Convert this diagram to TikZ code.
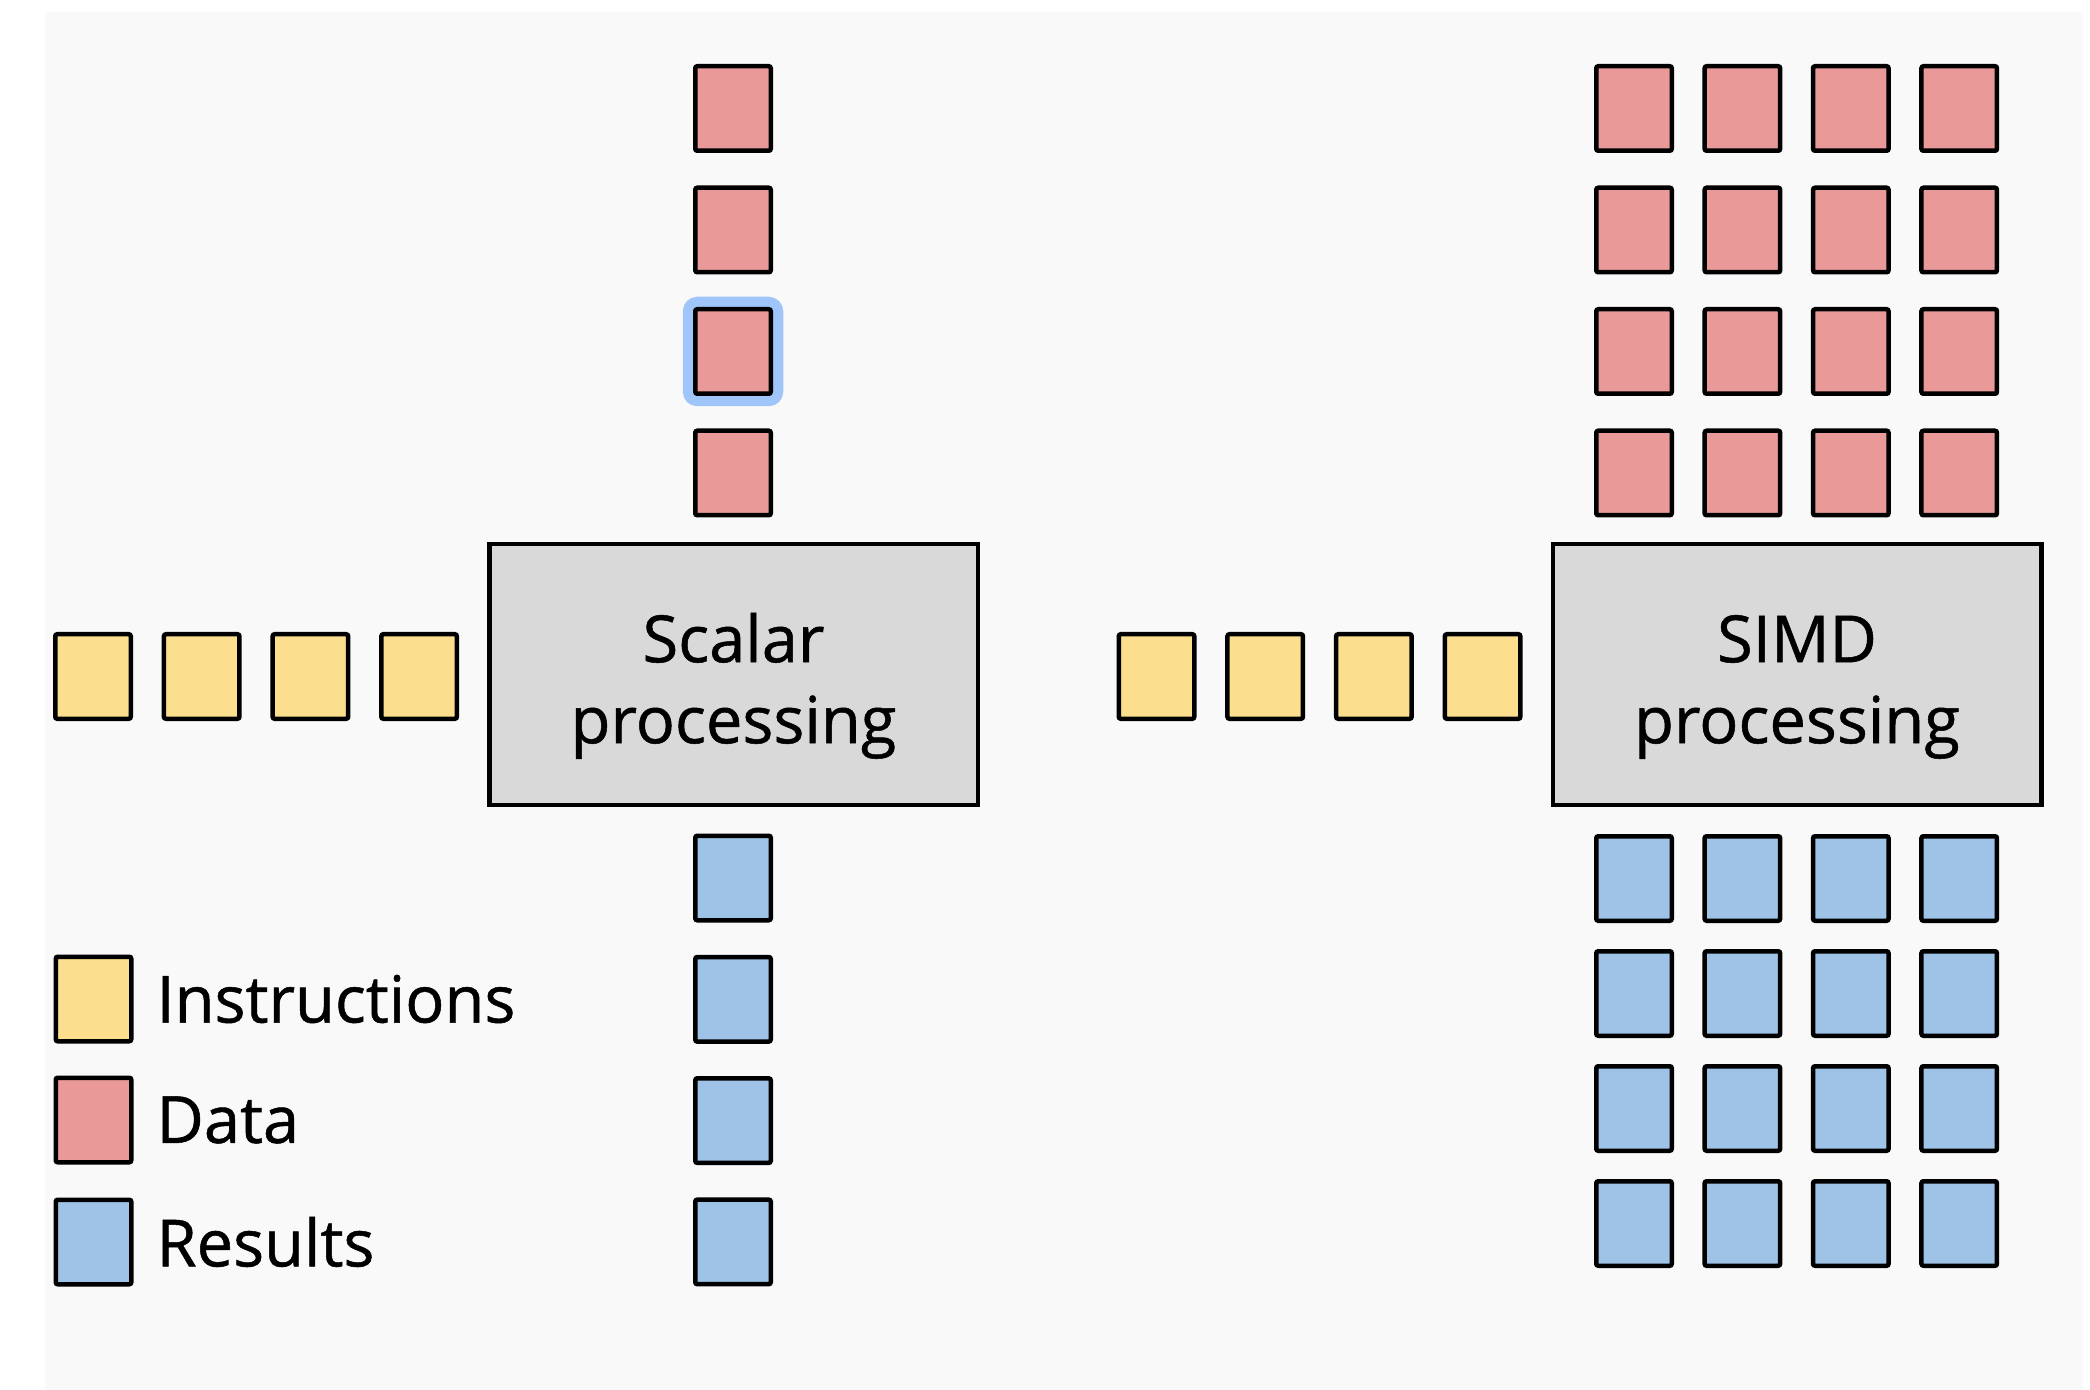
\documentclass[tikz,border=0pt]{standalone}
\usepackage{fontspec}
\setmainfont[FakeBold=0.8]{Open Sans}
\usetikzlibrary{positioning}
\definecolor{bggray}{HTML}{F9F9F9}
\definecolor{instrfill}{HTML}{FCDF8E}
\definecolor{datafill}{HTML}{EA9999}
\definecolor{resultfill}{HTML}{9FC3E7}
\definecolor{unitfill}{HTML}{D9D9D9}
\definecolor{glowblue}{HTML}{A0C5FA}
\tikzstyle{cell} = [
  rectangle,
  minimum width=37.75pt,
  minimum height=42.25pt,
  inner sep=0pt,
  draw=black,
  line width=2.25pt,
  rounded corners=1pt
]
\tikzstyle{instrcell} = [cell, fill=instrfill]
\tikzstyle{datacell} = [cell, fill=datafill]
\tikzstyle{resultcell} = [cell, fill=resultfill]
\tikzstyle{selected} = [preaction={draw=glowblue, line width=12.5pt, line join=round}]
\tikzstyle{unit} = [
  rectangle,
  minimum width=244.25pt,
  minimum height=130.25pt,
  draw=black,
  line width=2.25pt,
  fill=unitfill,
  align=center,
  font=\fontsize{32.5}{40.5}\selectfont
]
\tikzstyle{legendtext} = [inner sep=0pt, outer sep=0pt, font=\fontsize{32.5}{40}\selectfont]
\newcommand{\unitstrut}{\rule{0pt}{36pt}}

\begin{document}
\begin{tikzpicture}[x=0.5pt, y=-0.5pt]
    \useasboundingbox (0,0) rectangle (2090,1390);
    \fill[bggray] (45,12) rectangle (2083,1390);

    \node (scalar) [unit] at (733.5,674.5) {\unitstrut Scalar\\processing};
    \node (simd) [unit] at (1797,674.5) {\unitstrut SIMD\\processing};

    % scalar: one data item per instruction
    \foreach \i/\mark in {1/,2/,3/selected,4/} {
      \node (scalar-instr-\i) [instrcell] at ({93+108.7*(\i-1)},676.5) {};
      \node (scalar-data-\i) [datacell, \mark] at (733,{108.5+121.5*(\i-1)}) {};
      \node (scalar-result-\i) [resultcell] at (733,{878+121.3*(\i-1)}) {};
    }

    % simd: four data items per instruction
    \foreach \i in {1,...,4} {
      \node (simd-instr-\i) [instrcell] at ({1156.5+108.7*(\i-1)},676.5) {};
      \foreach \j in {1,...,4} {
        \node (simd-data-\i-\j) [datacell] at ({1634+108.4*(\j-1)},{108.5+121.5*(\i-1)}) {};
        \node (simd-result-\i-\j) [resultcell] at ({1634+108.4*(\j-1)},{878.5+115*(\i-1)}) {};
      }
    }

    \node (legend-instr) [instrcell] at (93.5,999) {};
    \node (legend-data) [datacell] at (93.5,1120) {};
    \node (legend-result) [resultcell] at (93.5,1242) {};
    \node (legend-instr-text) [legendtext, right=11.5pt of legend-instr] {Instructions};
    \node (legend-data-text) [legendtext, right=11.5pt of legend-data] {Data};
    \node (legend-result-text) [legendtext, right=11.5pt of legend-result] {Results};
  \end{tikzpicture}
\end{document}
